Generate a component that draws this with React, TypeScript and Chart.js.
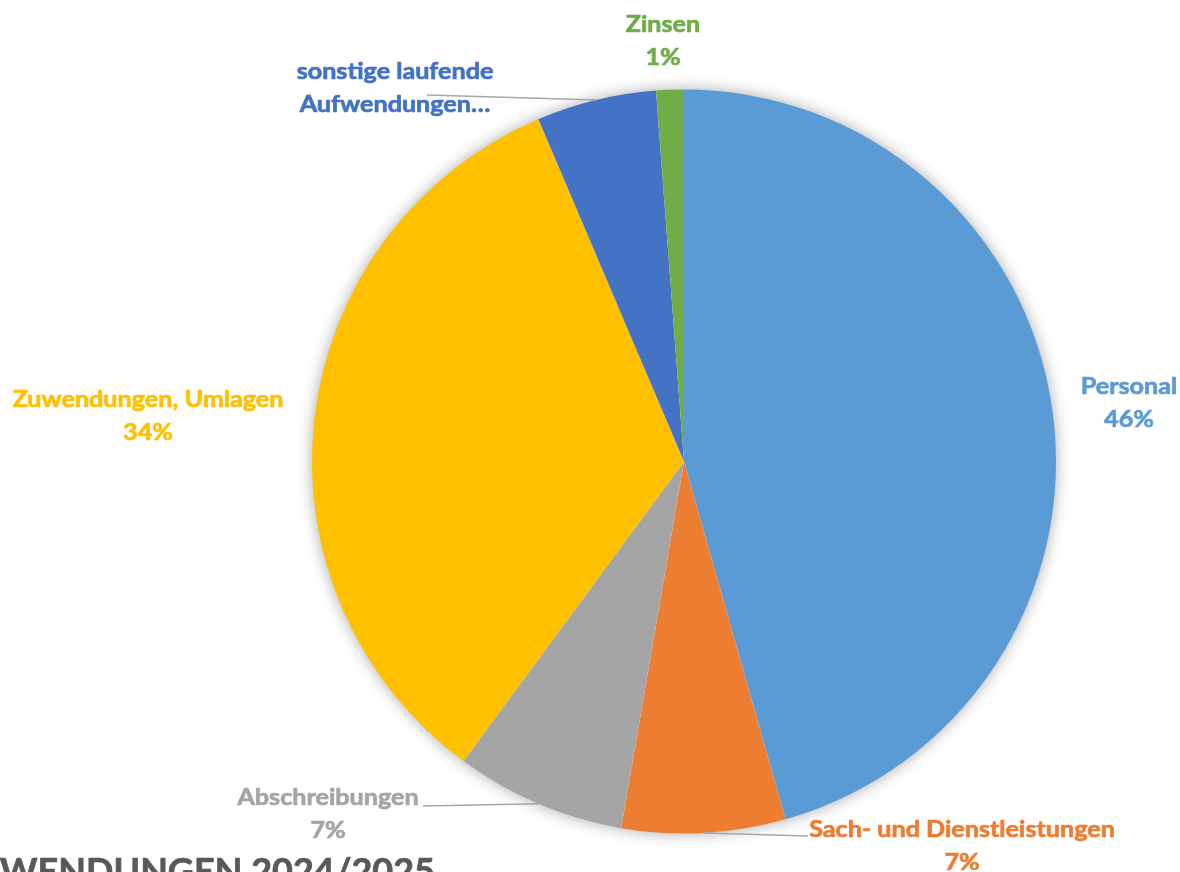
import React, { useEffect, useRef } from "react";
import { Chart, registerables } from "chart.js";

Chart.register(...registerables);

const categories = [
  "Personal",
  "Sach- und Dienstleistungen",
  "Abschreibungen",
  "Zuwendungen, Umlagen",
  "sonstige laufende Aufwendungen",
  "Zinsen",
];
const values = [45.6, 7.1, 7.4, 33.5, 5.2, 1.2];
const colors = ["#5B9BD5", "#ED7D31", "#A5A5A5", "#FFC000", "#4472C4", "#70AD47"];
const labelLines = [
  ["Personal"],
  ["Sach- und Dienstleistungen"],
  ["Abschreibungen"],
  ["Zuwendungen, Umlagen"],
  ["sonstige laufende", "Aufwendungen…"],
  ["Zinsen"],
];
const showPercent = [true, true, true, true, false, true];
const titleText = "AUFWENDUNGEN 2024/2025";

// layout of the data labels (text anchor and optional leader-line start)
const LABEL_LAYOUT: { x: number; y: number; line?: [number, number] }[] = [
  { x: 1129, y: 394 },
  { x: 962, y: 837, line: [808, 836] },
  { x: 328, y: 805, line: [423, 806] },
  { x: 148, y: 407 },
  { x: 395, y: 79, line: [427, 95] },
  { x: 663, y: 32 },
];
const LINE_GAP = 33;
const LABEL_FONT = "bold 23.5px Lato";
const TEXT_STRETCH = 1.07;

const shadowPlugin = {
  id: "pieShadow",
  beforeDatasetsDraw(chart: any) {
    const arc = chart.getDatasetMeta(0).data[0] as any;
    if (!arc) return;
    const ctx = chart.ctx;
    ctx.save();
    ctx.shadowColor = "rgba(0,0,0,0.38)";
    ctx.shadowBlur = 16;
    ctx.fillStyle = "#ffffff";
    ctx.beginPath();
    ctx.arc(arc.x, arc.y, arc.outerRadius - 1, 0, Math.PI * 2);
    ctx.fill();
    ctx.restore();
  },
};

function drawText(
  ctx: CanvasRenderingContext2D,
  t: string,
  x: number,
  y: number,
  color: string,
  font: string,
  align: CanvasTextAlign,
  stretch: number
) {
  ctx.save();
  ctx.translate(x, y);
  ctx.scale(stretch, 1);
  ctx.font = font;
  ctx.fillStyle = color;
  ctx.strokeStyle = color;
  ctx.lineWidth = 0.7;
  ctx.lineJoin = "round";
  ctx.textAlign = align;
  ctx.textBaseline = "alphabetic";
  ctx.fillText(t, 0, 0);
  ctx.strokeText(t, 0, 0);
  ctx.restore();
}

const labelPlugin = {
  id: "pieLabels",
  afterDraw(chart: any) {
    const ctx = chart.ctx;
    const meta = chart.getDatasetMeta(0);
    const data = chart.data.datasets[0].data as number[];
    const total = data.reduce((a, b) => a + b, 0);
    ctx.save();
    meta.data.forEach((el: any, i: number) => {
      const lay = LABEL_LAYOUT[i];
      if (lay.line) {
        const mid = (el.startAngle + el.endAngle) / 2;
        const ex = el.x + Math.cos(mid) * el.outerRadius;
        const ey = el.y + Math.sin(mid) * el.outerRadius;
        ctx.strokeStyle = "#A6A6A6";
        ctx.lineWidth = 1.5;
        ctx.beginPath();
        ctx.moveTo(lay.line[0], lay.line[1]);
        ctx.lineTo(ex, ey);
        ctx.stroke();
      }
      const lines = [...labelLines[i]];
      if (showPercent[i]) lines.push(Math.round((data[i] / total) * 100) + "%");
      lines.forEach((t, k) =>
        drawText(ctx, t, lay.x, lay.y + k * LINE_GAP, colors[i], LABEL_FONT, "center", TEXT_STRETCH)
      );
    });
    drawText(ctx, titleText, 435, 884, "#595959", "bold 36px Lato", "right", 1.0);
    ctx.restore();
  },
};

export default function App() {
  const ref = useRef<HTMLCanvasElement>(null);
  useEffect(() => {
    if (!ref.current) return;
    const chart = new Chart(ref.current, {
      type: "pie",
      data: {
        labels: categories,
        datasets: [
          {
            data: values,
            backgroundColor: colors,
            borderWidth: 0,
          },
        ],
      },
      options: {
        animation: false,
        responsive: true,
        maintainAspectRatio: false,
        layout: { padding: { left: 312, right: 124, top: 89.5, bottom: 38.5 } },
        plugins: { legend: { display: false }, tooltip: { enabled: false }, title: { display: false } },
      },
      plugins: [shadowPlugin, labelPlugin],
    });
    return () => chart.destroy();
  }, []);
  return (
    <div style={{ position: "fixed", left: 0, top: 0, width: 1180, height: 872, background: "#fff" }}>
      <canvas ref={ref} />
    </div>
  );
}
